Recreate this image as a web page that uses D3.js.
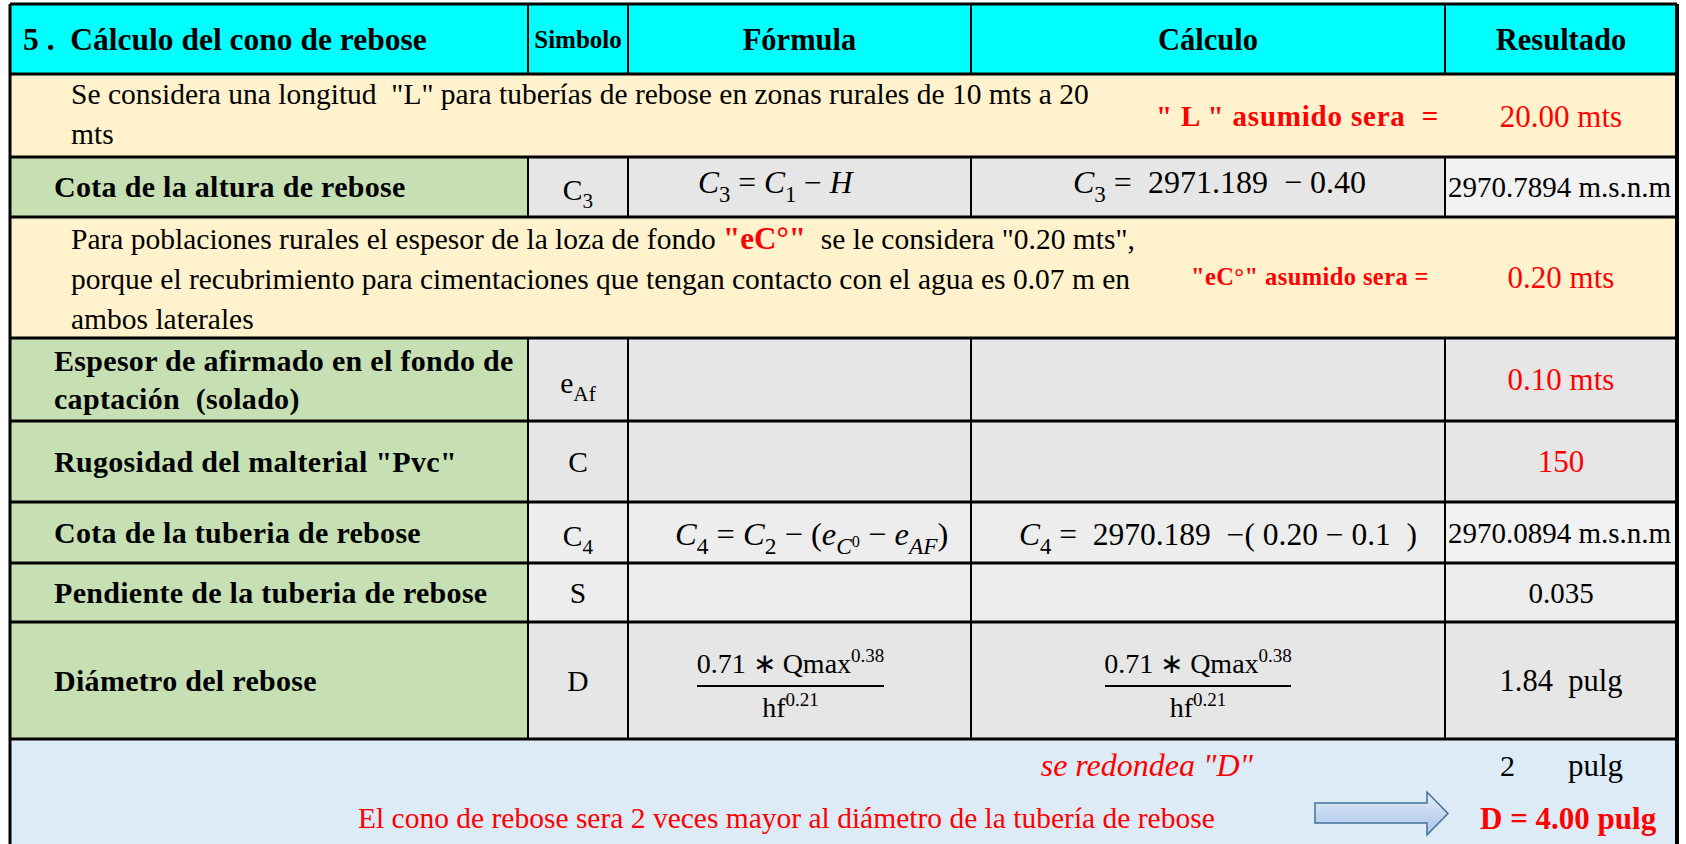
<!DOCTYPE html>
<html><head><meta charset="utf-8">
<script src="https://cdn.jsdelivr.net/npm/d3@7"></script>
<style>body{margin:0;background:#fff} text{white-space:pre}</style>
</head><body><svg id="c" width="1686" height="844"></svg>
<script>
// ---------- DATA ----------
const headers = ["5 .  Cálculo del cono de rebose", "Simbolo", "Fórmula", "Cálculo", "Resultado"];
const noteL = ["Se considera una longitud  \"L\" para tuberías de rebose en zonas rurales de 10 mts a 20", "mts"];
const noteLAssumed = "\" L \" asumido sera  =";
const noteLValue = "20.00 mts";
const noteE1 = ["Para poblaciones rurales el espesor de la loza de fondo ", "\"eC°\"", "  se le considera \"0.20 mts\","];
const noteE = ["porque el recubrimiento para cimentaciones que tengan contacto con el agua es 0.07 m en", "ambos laterales"];
const noteEAssumed = "\"eC°\" asumido sera =";
const noteEValue = "0.20 mts";
const paramLabels = [
  ["Cota de la altura de rebose"],
  ["Espesor de afirmado en el fondo de", "captación  (solado)"],
  ["Rugosidad del malterial \"Pvc\""],
  ["Cota de la tuberia de rebose"],
  ["Pendiente de la tuberia de rebose"],
  ["Diámetro del rebose"]
];
const paramSymbols = [["C", "3"], ["e", "Af"], ["C", ""], ["C", "4"], ["S", ""], ["D", ""]];
const paramResults = ["2970.7894 m.s.n.m", "0.10 mts", "150", "2970.0894 m.s.n.m", "0.035", "1.84  pulg"];
const formulaC3 = [{t:"C",i:1},{t:"3",k:"sub"},{t:" = "},{t:"C",i:1},{t:"1",k:"sub"},{t:" − "},{t:"H",i:1}];
const calcC3 = [{t:"C",i:1},{t:"3",k:"sub"},{t:" =  2971.189  − 0.40"}];
const formulaC4 = [{t:"C",i:1},{t:"4",k:"sub"},{t:" = "},{t:"C",i:1},{t:"2",k:"sub"},{t:" − ("},{t:"e",i:1},{t:"C",i:1,k:"sub"},{t:"0",k:"subsup"},{t:" − "},{t:"e",i:1},{t:"AF",i:1,k:"sub"},{t:")"}];
const calcC4 = [{t:"C",i:1},{t:"4",k:"sub"},{t:" =  2970.189  −( 0.20 − 0.1  )"}];
const fracNum = [{t:"0.71 ∗ Qmax"},{t:"0.38",k:"sup"}];
const fracDen = [{t:"hf"},{t:"0.21",k:"sup"}];
const roundLabel = "se redondea \"D\"";
const roundValue = ["2", "pulg"];
const conclusion = "El cono de rebose sera 2 veces mayor al diámetro de la tubería de rebose";
const finalResult = "D = 4.00 pulg";

// ---------- LAYOUT ----------
const SERIF = "'Liberation Serif','Times New Roman',serif";
const colEdges = [10, 528, 628, 971, 1445, 1677];
const rowEdges = [4, 74, 157, 217, 338, 421, 502, 563, 622, 739, 844];
const x = d3.scaleOrdinal().domain(d3.range(colEdges.length)).range(colEdges);
const y = d3.scaleOrdinal().domain(d3.range(rowEdges.length)).range(rowEdges);
const colMid = i => (x(i) + x(i + 1)) / 2;
const rowMid = i => (y(i) + y(i + 1)) / 2;
const paramRows = [2, 4, 5, 6, 7, 8];
const RED = "#FF0000";
const GRAY = "#E6E6E6", GRAY2 = "#EDEDED", GRAY3 = "#F2F2F2";
const rowFills = {
  2: [GRAY, GRAY, GRAY, GRAY3],
  4: [GRAY, GRAY, GRAY, GRAY],
  5: [GRAY, GRAY, GRAY, GRAY],
  6: [GRAY2, GRAY2, GRAY2, GRAY3],
  7: [GRAY2, GRAY2, GRAY2, GRAY2],
  8: [GRAY, GRAY, GRAY, GRAY]
};
const resultRed = [false, true, true, false, false, false];
const resultAlign = ["start", "middle", "middle", "start", "middle", "middle"];
const resultSize = [29, 31, 31, 29, 29, 30.5];

const svg = d3.select("#c");
svg.append("rect").attr("width", 1686).attr("height", 844).attr("fill", "#fff");

// backgrounds
svg.append("rect").attr("x", x(0)).attr("y", y(0)).attr("width", x(5) - x(0)).attr("height", y(1) - y(0)).attr("fill", "#00FFFF");
[1, 3].forEach(r => svg.append("rect").attr("x", x(0)).attr("y", y(r)).attr("width", x(5) - x(0)).attr("height", y(r + 1) - y(r)).attr("fill", "#FFF2CC"));
svg.append("rect").attr("x", x(0)).attr("y", y(9)).attr("width", x(5) - x(0)).attr("height", y(10) - y(9)).attr("fill", "#DDEBF7");
paramRows.forEach(r => {
  svg.append("rect").attr("x", x(0)).attr("y", y(r)).attr("width", x(1) - x(0)).attr("height", y(r + 1) - y(r)).attr("fill", "#C6E0B4");
  for (let c = 1; c < 5; c++)
    svg.append("rect").attr("x", x(c)).attr("y", y(r)).attr("width", x(c + 1) - x(c)).attr("height", y(r + 1) - y(r)).attr("fill", rowFills[r][c - 1]);
});

// grid lines
const lines = svg.append("g").attr("stroke", "#000");
[0, 1, 2, 3, 4, 5, 6, 7, 8, 9].forEach(r => lines.append("line").attr("x1", x(0)).attr("x2", x(5)).attr("y1", y(r)).attr("y2", y(r)).attr("stroke-width", 3));
[0, 1, 2, 3, 4, 5, 6, 7, 8].forEach(r => {
  if (r === 1 || r === 3) return;
  [1, 2, 3, 4].forEach(c => lines.append("line").attr("x1", x(c)).attr("x2", x(c)).attr("y1", y(r)).attr("y2", y(r + 1)).attr("stroke-width", 2));
});
lines.append("line").attr("x1", x(0)).attr("x2", x(0)).attr("y1", y(0)).attr("y2", y(10)).attr("stroke-width", 3);
lines.append("line").attr("x1", x(5)).attr("x2", x(5)).attr("y1", y(0)).attr("y2", y(10)).attr("stroke-width", 4);

// rich text helper
function rich(parent, px, py, segs, o) {
  const size = o.size;
  const t = parent.append("text").attr("x", px).attr("y", py)
    .attr("font-family", o.family || SERIF).attr("font-size", size)
    .attr("text-anchor", o.anchor || "start").attr("fill", o.fill || "#000")
    .attr("font-weight", o.weight || "normal").attr("font-style", o.style || "normal");
  if (o.ls) t.attr("letter-spacing", o.ls);
  let cur = 0;
  segs.forEach(s => {
    const k = s.k || "";
    let shift = 0, sz = size;
    if (k === "sub") { shift = 0.28 * size; sz = 0.72 * size; }
    if (k === "sup") { shift = -0.4 * size; sz = 0.68 * size; }
    if (k === "subsup") { shift = 0.05 * size; sz = 0.5 * size; }
    const ts = t.append("tspan").attr("dy", shift - cur).attr("font-size", s.sz || sz).text(s.t);
    cur = shift;
    if (s.i) ts.attr("font-style", "italic");
    if (s.b) ts.attr("font-weight", "bold");
    if (s.c) ts.attr("fill", s.c);
  });
  return t;
}
function txt(px, py, s, o) { return rich(svg, px, py, [{t: s}], o); }

// headers
txt(x(0) + 13, 50, headers[0], {size: 31.5, weight: "bold"});
txt(colMid(1), 48, headers[1], {size: 25, weight: "bold", anchor: "middle"});
[2, 3, 4].forEach(c => txt(colMid(c), 50, headers[c], {size: 30.5, weight: "bold", anchor: "middle"}));

// note L
noteL.forEach((s, i) => txt(71, 104 + i * 40, s, {size: 29.5}));
txt(1156, 126, noteLAssumed, {size: 29, weight: "bold", fill: RED, ls: 0.8});
txt(colMid(4), 127, noteLValue, {size: 31, anchor: "middle", fill: RED});

// note eC
rich(svg, 71, 249, [{t: noteE1[0]}, {t: noteE1[1], b: 1, c: RED, sz: 31}, {t: noteE1[2]}], {size: 29.5});
noteE.forEach((s, i) => txt(71, 289 + i * 40, s, {size: 29.5}));
txt(1191, 285, noteEAssumed, {size: 24.5, weight: "bold", fill: RED, ls: 0.4});
txt(colMid(4), 288, noteEValue, {size: 31, anchor: "middle", fill: RED});

// parameter rows
paramRows.forEach((r, i) => {
  const m = rowMid(r);
  const lab = paramLabels[i];
  lab.forEach((s, j) => txt(x(0) + 44, m + 10 + (j - (lab.length - 1) / 2) * 38, s, {size: 30, weight: "bold", ls: 0.3}));
  const sym = paramSymbols[i];
  const segs = [{t: sym[0]}];
  if (sym[1]) segs.push({t: sym[1], k: "sub"});
  rich(svg, colMid(1), m + (sym[1] ? 13 : 10), segs, {size: 29.5, anchor: "middle"});
  const al = resultAlign[i];
  txt(al === "start" ? x(4) + 3 : colMid(4), m + 10, paramResults[i], {size: resultSize[i], anchor: al, fill: resultRed[i] ? RED : "#000"});
});

// formulas
rich(svg, 698, 193, formulaC3, {size: 31.5});
rich(svg, 1073, 193, calcC3, {size: 32});
rich(svg, 675, 545, formulaC4, {size: 32.5});
rich(svg, 1019, 545, calcC4, {size: 31.5});
[[colMid(2) - 9, 187], [1198, 186]].forEach(([cx, hw]) => {
  rich(svg, cx, 673, fracNum, {size: 28, anchor: "middle"});
  svg.append("line").attr("x1", cx - hw / 2).attr("x2", cx + hw / 2).attr("y1", 686).attr("y2", 686).attr("stroke", "#000").attr("stroke-width", 1.8);
  rich(svg, cx, 717, fracDen, {size: 28, anchor: "middle"});
});

// bottom area
txt(1253, 776, roundLabel, {size: 32, style: "italic", fill: RED, anchor: "end"});
txt(1500, 776, roundValue[0], {size: 30});
txt(1568, 776, roundValue[1], {size: 31});
txt(358, 828, conclusion, {size: 29.5, fill: RED});
txt(1480, 829, finalResult, {size: 31, weight: "bold", fill: RED});

// arrow
const defs = svg.append("defs");
const grad = defs.append("linearGradient").attr("id", "ag").attr("x1", 0).attr("y1", 0).attr("x2", 0).attr("y2", 1);
grad.append("stop").attr("offset", "0%").attr("stop-color", "#E4ECF7");
grad.append("stop").attr("offset", "100%").attr("stop-color", "#A7C3E9");
const ax0 = 1315, ax1 = 1427, ax2 = 1448, ay0 = 792, ay1 = 803, ay2 = 823, ay3 = 835, aym = 813.5;
svg.append("path").attr("d", `M${ax0},${ay1}L${ax1},${ay1}L${ax1},${ay0}L${ax2},${aym}L${ax1},${ay3}L${ax1},${ay2}L${ax0},${ay2}Z`)
  .attr("fill", "url(#ag)").attr("stroke", "#41719C").attr("stroke-width", 1.5);
</script></body></html>
